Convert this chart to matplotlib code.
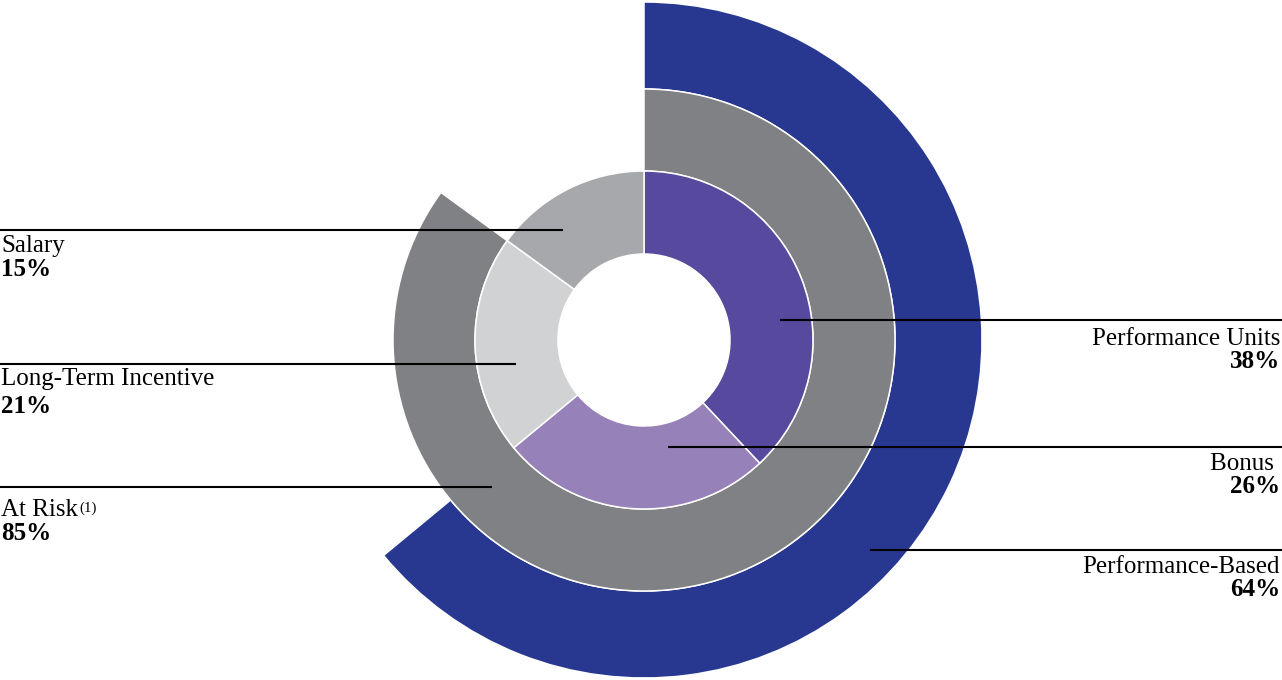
import matplotlib as mpl
mpl.use('Agg')
import matplotlib.pyplot as plt

plt.rcParams['font.family'] = ['Liberation Serif', 'DejaVu Serif']

# outer ring: performance-based pay
outer_labels = ['Performance-Based']
outer_values = [64]
# middle ring: at risk pay
middle_labels = ['At Risk']
middle_values = [85]
# inner ring: pay components
inner_labels = ['Performance Units', 'Bonus', 'Long-Term Incentive', 'Salary']
inner_values = [38, 26, 21, 15]

blue = '#283890'
dgray = '#808184'
inner_colors = ['#574a9e', '#9781b9', '#d1d2d4', '#a7a8ab']

W, H = 1282, 680
fig = plt.figure(figsize=(W / 100, H / 100), dpi=100)
ax = fig.add_axes([0, 0, 1, 1])

cx, cy = 644, H - 340
wp = dict(edgecolor='white', linewidth=1.1)

def ring(vals, radius, width, colors):
    rest = 100 - sum(vals)
    v = list(vals) + ([rest] if rest > 0 else [])
    c = list(colors) + (['none'] if rest > 0 else [])
    wedges, _ = ax.pie(v, radius=radius, center=(cx, cy), startangle=90,
                       counterclock=False, colors=c,
                       wedgeprops=dict(width=width, **wp))
    if rest > 0:
        wedges[-1].set_visible(False)
    return wedges

ring(outer_values, 338, 87, [blue])
ring(middle_values, 251, 82, [dgray])
ring(inner_values, 169, 83, inner_colors)

ax.set_xlim(0, W)
ax.set_ylim(0, H)
ax.set_aspect('equal')
ax.axis('off')

fs = 18

def label(name, val, side, line_y, x_end, name_dy, pct_dy, sup=None):
    y = H - line_y
    if side == 'left':
        ax.plot([0, x_end], [y, y], color='black', lw=1.5, solid_capstyle='butt')
        tx, ha = 1, 'left'
    else:
        ax.plot([x_end, W], [y, y], color='black', lw=1.5, solid_capstyle='butt')
        tx, ha = W - 2, 'right'
    t = ax.text(tx, y - name_dy, name, fontsize=fs, ha=ha, va='baseline')
    if sup:
        ax.annotate(sup, xy=(1.0, 1.0), xycoords=t, xytext=(1, -2),
                    textcoords='offset points', fontsize=fs * 0.6,
                    ha='left', va='top')
    ax.text(tx, y - pct_dy, f'{val}%', fontsize=fs, fontweight='bold',
            ha=ha, va='baseline')

label(inner_labels[3], inner_values[3], 'left', 230, 563, 22, 46)
label(inner_labels[2], inner_values[2], 'left', 364, 516, 21, 49)
label(middle_labels[0], middle_values[0], 'left', 487, 492, 29, 53, sup='(1)')
label(inner_labels[0], inner_values[0], 'right', 320, 780, 25, 48)
label(inner_labels[1] + ' ', inner_values[1], 'right', 447, 668, 23, 46)
label(outer_labels[0], outer_values[0], 'right', 550, 870, 23, 46)

fig.savefig('out.png', dpi=100)
